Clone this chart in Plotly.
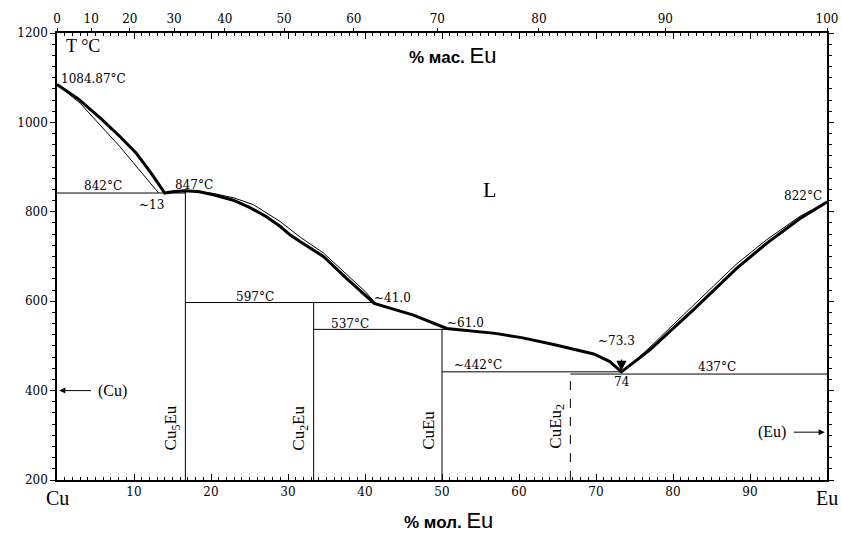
import plotly.graph_objects as go

# ---------------- data ----------------
# thick liquidus (experimental), mol % Eu vs T
liq_x = [0, 2.8, 5.6, 8.2, 10.3, 12.2, 14.0, 15.0, 16.67, 18.5, 20.3, 22.9, 25.0, 27.2, 29.0, 30.3, 31.6,
         34.6, 37.6, 41.2, 46.3, 50.6, 56.9, 60.5, 64.5, 67.9, 69.7, 71.8, 73.3,
         77.0, 82.6, 88.3, 92.2, 96.5, 100]
liq_T = [1084.87, 1052, 1010, 968, 931, 887, 842, 845, 847, 845, 838, 826, 810, 789, 767, 748, 733,
         700, 651, 595, 569, 539, 528, 518, 503, 490, 482, 465, 442,
         491, 580, 674, 730, 785, 822]

# thin (calculated) liquidus segments
calc1_x = [0, 3.0, 8.2, 13.2]
calc1_T = [1084.87, 1043, 945, 842]
calc2_x = [18.0, 20.3, 23.0, 25.5, 29.0, 31.6, 34.6, 37.6, 40.0, 41.3]
calc2_T = [846, 841, 831, 816, 778, 743, 708, 660, 622, 597]
calc3_x = [74.5, 77.0, 82.6, 88.3, 92.2, 96.5, 100]
calc3_T = [458, 497, 590, 684, 738, 790, 822]

# invariant horizontals
inv_T = [842, 597, 537, 442, 437]
inv_x0 = [0, 16.67, 33.33, 50.0, 66.67]
inv_x1 = [16.67, 41.2, 50.6, 73.3, 100]

# compounds
comp_names = ["Cu<sub>5</sub>Eu", "Cu<sub>2</sub>Eu", "CuEu", "CuEu<sub>2</sub>"]
comp_x = [16.67, 33.33, 50.0, 66.67]
comp_top = [847, 597, 537, 437]
comp_dash = ["solid", "solid", "solid", "dash"]
comp_label_T = [316, 316, 312, 320]

# top axis: wt % Eu labels
wt_labels = [0, 10, 20, 30, 40, 50, 60, 70, 80, 90, 100]
mol_ticks = [10, 20, 30, 40, 50, 60, 70, 80, 90]
y_ticks = [200, 400, 600, 800, 1000, 1200]

# temperature / composition labels: (text, x, T, xanchor)
labels = [
    ("1084.87°C", 0.3, 1096, "left"),
    ("842°C", 6.0, 858, "center"),
    ("~13", 12.3, 815, "center"),
    ("847°C", 17.8, 860, "center"),
    ("822°C", 96.9, 835, "center"),
    ("597°C", 25.7, 609, "center"),
    ("~41.0", 40.9, 607, "left"),
    ("537°C", 38.0, 549, "center"),
    ("~61.0", 50.4, 551, "left"),
    ("~442°C", 54.7, 457, "center"),
    ("~73.3", 72.7, 512, "center"),
    ("74", 73.4, 419, "center"),
    ("437°C", 85.7, 453, "center"),
]

M_CU, M_EU = 63.546, 151.964


def wt_to_mol(w):
    if w >= 100:
        return 100.0
    n_eu = w / M_EU
    n_cu = (100 - w) / M_CU
    return 100 * n_eu / (n_eu + n_cu)


NUMFONT = dict(family="DejaVu Serif", size=12, color="black")
SERIF = "Liberation Serif"

fig = go.Figure()

# invariant lines
for t, a, b in zip(inv_T, inv_x0, inv_x1):
    fig.add_trace(go.Scatter(x=[a, b], y=[t, t], mode="lines",
                             line=dict(color="black", width=1), hoverinfo="skip"))
# compound lines
for cx, ct, cd in zip(comp_x, comp_top, comp_dash):
    fig.add_trace(go.Scatter(x=[cx, cx], y=[200, ct], mode="lines",
                             line=dict(color="black", width=1, dash=cd), hoverinfo="skip"))
# calculated (thin) liquidus
for xs, ts in [(calc1_x, calc1_T), (calc2_x, calc2_T), (calc3_x, calc3_T)]:
    fig.add_trace(go.Scatter(x=xs, y=ts, mode="lines",
                             line=dict(color="black", width=1), hoverinfo="skip"))
# experimental liquidus
fig.add_trace(go.Scatter(x=liq_x, y=liq_T, mode="lines",
                         line=dict(color="black", width=3), hoverinfo="skip"))
# dummy trace for top axis
fig.add_trace(go.Scatter(x=[0], y=[200], xaxis="x2", mode="markers",
                         marker=dict(opacity=0), hoverinfo="skip"))

ann = []
for txt, x, t, xa in labels:
    ann.append(dict(x=x, y=t, text=txt, showarrow=False, xanchor=xa, yanchor="middle",
                    font=NUMFONT))
for name, cx, lt in zip(comp_names, comp_x, comp_label_T):
    ann.append(dict(x=cx - 1.7, y=lt, text=name, showarrow=False, textangle=-90,
                    xanchor="center", yanchor="middle",
                    font=dict(family=SERIF, size=17, color="black")))
# arrows
ann.append(dict(x=0.3, y=400, ax=4.8, ay=400, axref="x", ayref="y", text=" ", showarrow=True,
                arrowhead=2, arrowsize=1.2, arrowwidth=1, arrowcolor="black"))
ann.append(dict(x=5.1, y=400, text="(Cu)", showarrow=False, xanchor="left",
                font=dict(family=SERIF, size=16, color="black")))
ann.append(dict(x=99.7, y=307, ax=95.3, ay=307, axref="x", ayref="y", text=" ", showarrow=True,
                arrowhead=2, arrowsize=1.2, arrowwidth=1, arrowcolor="black"))
ann.append(dict(x=94.9, y=307, text="(Eu)", showarrow=False, xanchor="right",
                font=dict(family=SERIF, size=16, color="black")))
ann.append(dict(x=73.3, y=444, ax=73.3, ay=492, axref="x", ayref="y", text=" ", showarrow=True,
                arrowhead=2, arrowsize=1.7, arrowwidth=1.2, arrowcolor="black"))
# big labels
ann.append(dict(x=0.9, y=1172, text="T °C", showarrow=False, xanchor="left",
                font=dict(family=SERIF, size=18, color="black")))
ann.append(dict(x=56.2, y=851, text="L", showarrow=False,
                font=dict(family=SERIF, size=22, color="black")))
ann.append(dict(x=0, y=-0.012, yref="paper", text="Cu", showarrow=False, yanchor="top",
                font=dict(family=SERIF, size=20, color="black")))
ann.append(dict(x=100, y=-0.012, yref="paper", text="Eu", showarrow=False, yanchor="top",
                font=dict(family=SERIF, size=20, color="black")))
ann.append(dict(x=51.3, y=1150, text="<b>% мас.</b> <span style='font-size:22px'>Eu</span>",
                showarrow=False, font=dict(family="Liberation Sans", size=17, color="black")))
ann.append(dict(x=50.8, y=-0.09, yref="paper", yanchor="middle",
                text="<b>% мол.</b> <span style='font-size:22px'>Eu</span>",
                showarrow=False, font=dict(family="Liberation Sans", size=17, color="black")))

fig.update_layout(
    width=842, height=535,
    margin=dict(l=57, r=15, t=33, b=55, autoexpand=False),
    paper_bgcolor="white", plot_bgcolor="white",
    showlegend=False,
    annotations=ann,
    xaxis=dict(range=[0, 100], tickvals=mol_ticks, ticks="inside", ticklen=6, tickwidth=1,
               tickcolor="black", minor=dict(dtick=1, ticks="inside", ticklen=3, tickcolor="black"),
               showline=True, linecolor="black", linewidth=1.5, mirror="ticks", automargin=False,
               showgrid=False, zeroline=False, tickfont=NUMFONT, fixedrange=True),
    xaxis2=dict(range=[0, 100], overlaying="x", side="top", anchor="y", automargin=False,
                tickvals=[wt_to_mol(w) for w in wt_labels], ticktext=[str(w) for w in wt_labels],
                ticks="outside", ticklen=4, tickcolor="black", showline=False, showgrid=False,
                zeroline=False, tickfont=NUMFONT),
    yaxis=dict(range=[200, 1200], tickvals=y_ticks, ticks="outside", ticklen=5, tickcolor="black",
               minor=dict(dtick=25, ticks="outside", ticklen=3, tickcolor="black"),
               showline=True, linecolor="black", linewidth=1.5, mirror="ticks", automargin=False,
               showgrid=False, zeroline=False, tickfont=NUMFONT),
)

fig.write_html("out.html")
